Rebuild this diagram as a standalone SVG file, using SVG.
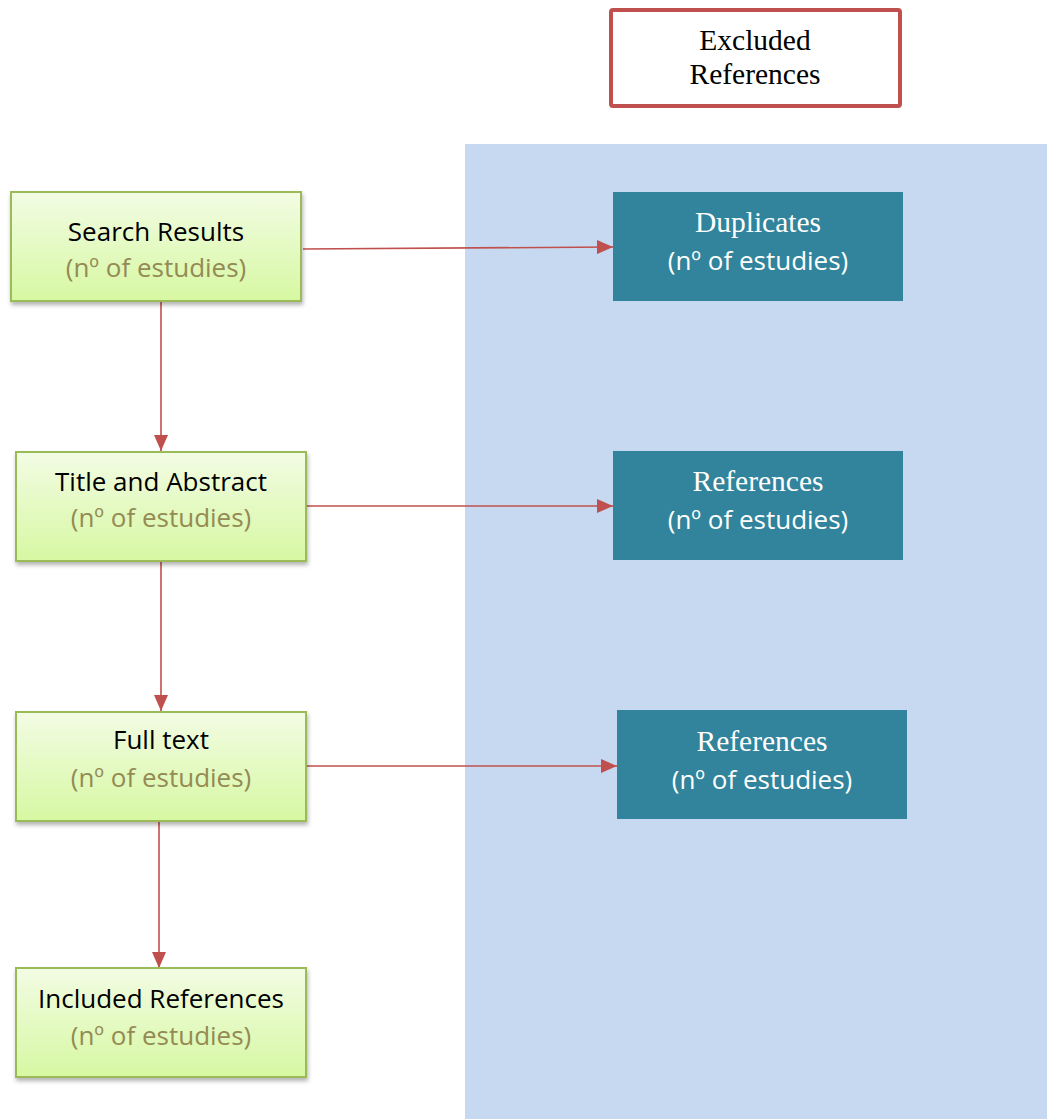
<svg xmlns="http://www.w3.org/2000/svg" width="1047" height="1119" viewBox="0 0 1047 1119">
<style>
.g{stroke:#9bbb59;stroke-width:2;fill:url(#gr);filter:url(#sh)}
.t{fill:#31849b}
.c{stroke:#c0504d;stroke-width:1.6;fill:none;marker-end:url(#ar)}
.s{font-family:"Open Sans","DejaVu Sans",sans-serif;font-size:26px;text-anchor:middle}
.sub{fill:#948a54}
.serif{font-family:"Liberation Serif","Times New Roman",serif;font-size:29.5px;text-anchor:middle}
</style>
<defs>
<linearGradient id="gr" x1="0" y1="0" x2="0" y2="1">
<stop offset="0" stop-color="#f2fce4"/>
<stop offset="1" stop-color="#d7f8a2"/>
</linearGradient>
<filter id="sh" x="-10%" y="-10%" width="120%" height="130%">
<feDropShadow dx="1" dy="3" stdDeviation="2" flood-color="#000" flood-opacity="0.3"/>
</filter>
<marker id="ar" viewBox="0 0 16 14" refX="16" refY="7" markerWidth="16" markerHeight="14" markerUnits="userSpaceOnUse" orient="auto">
<path d="M0,0 L16,7 L0,14 z" fill="#c0504d"/>
</marker>
</defs>
<rect x="465" y="144" width="582" height="975" fill="#c6d9f0"/>
<g id="excluded">
<rect x="611" y="10" width="289" height="96" rx="2" fill="#fff" stroke="#c0504d" stroke-width="4"/>
<text class="serif" x="755" y="50">Excluded</text>
<text class="serif" x="755" y="84">References</text>
</g>
<g id="connectors">
<path class="c" d="M303,249 L613,247"/>
<path class="c" d="M161,301 L161,451"/>
<path class="c" d="M306,506 L613,506"/>
<path class="c" d="M161,561 L161,711"/>
<path class="c" d="M301,766 L617,766"/>
<path class="c" d="M159,821 L159,968"/>
</g>
<g id="search">
<rect class="g" x="11" y="192" width="290" height="109"/>
<text class="s" x="156" y="241">Search Results</text>
<text class="s sub" x="156" y="277">(nº of estudies)</text>
</g>
<g id="title">
<rect class="g" x="16" y="452" width="290" height="109"/>
<text class="s" x="161" y="491">Title and Abstract</text>
<text class="s sub" x="161" y="527">(nº of estudies)</text>
</g>
<g id="fulltext">
<rect class="g" x="16" y="712" width="290" height="109"/>
<text class="s" x="161" y="749">Full text</text>
<text class="s sub" x="161" y="787">(nº of estudies)</text>
</g>
<g id="included">
<rect class="g" x="16" y="968" width="290" height="109"/>
<text class="s" x="161" y="1008">Included References</text>
<text class="s sub" x="161" y="1045">(nº of estudies)</text>
</g>
<g id="duplicates">
<rect class="t" x="613" y="192" width="290" height="109"/>
<text class="serif" x="758" y="232" fill="#fff">Duplicates</text>
<text class="s" x="758" y="270" fill="#fff">(nº of estudies)</text>
</g>
<g id="refs1">
<rect class="t" x="613" y="451" width="290" height="109"/>
<text class="serif" x="758" y="491" fill="#fff">References</text>
<text class="s" x="758" y="529" fill="#fff">(nº of estudies)</text>
</g>
<g id="refs2">
<rect class="t" x="617" y="710" width="290" height="109"/>
<text class="serif" x="762" y="751" fill="#fff">References</text>
<text class="s" x="762" y="789" fill="#fff">(nº of estudies)</text>
</g>
</svg>
